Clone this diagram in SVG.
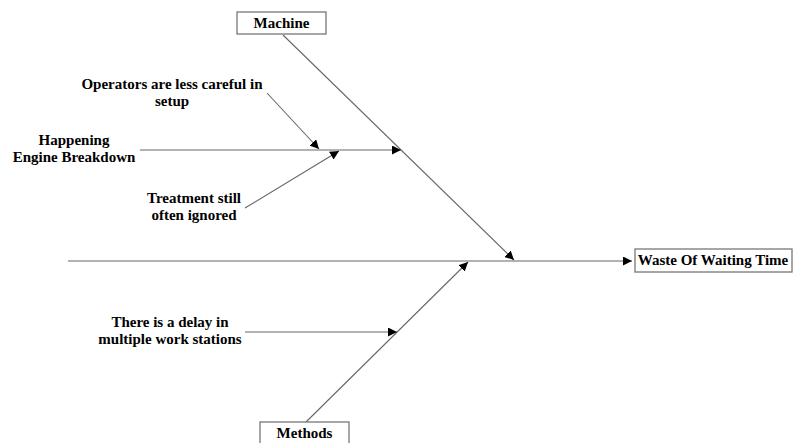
<svg xmlns="http://www.w3.org/2000/svg" width="793" height="443" viewBox="0 0 793 443">
<style>
.t{font-family:"Liberation Serif","Times New Roman",serif;font-weight:bold;font-size:15px;fill:#000;text-anchor:middle}
.b{fill:#fff;stroke:#777;stroke-width:1.3}
.c line{stroke:#666;stroke-width:1.1}
</style>
<defs>
<marker id="ah" viewBox="0 0 10 10" refX="10" refY="5" markerWidth="9" markerHeight="9" markerUnits="userSpaceOnUse" orient="auto">
<path d="M0,0 L10,5 L0,10 z" fill="#000"/>
</marker>
</defs>
<rect width="793" height="443" fill="#fff"/>
<g class="c" id="connectors">
<line x1="68" y1="261" x2="632" y2="261" marker-end="url(#ah)"/>
<line x1="283" y1="35" x2="514" y2="260" marker-end="url(#ah)"/>
<line x1="306" y1="422" x2="468" y2="262" marker-end="url(#ah)"/>
<line x1="140" y1="150" x2="401" y2="150" marker-end="url(#ah)"/>
<line x1="267" y1="93" x2="319" y2="149" marker-end="url(#ah)"/>
<line x1="245" y1="208" x2="339" y2="151" marker-end="url(#ah)"/>
<line x1="245" y1="332" x2="397" y2="332" marker-end="url(#ah)"/>
</g>
<g id="machine">
<rect class="b" x="237" y="12" width="89" height="22"/>
<text class="t" x="281.5" y="28">Machine</text>
</g>
<g id="methods">
<rect class="b" x="260" y="422" width="89" height="24"/>
<text class="t" x="304.5" y="438">Methods</text>
</g>
<g id="effect">
<rect class="b" x="635" y="249" width="157" height="23"/>
<text class="t" x="713" y="265">Waste Of Waiting Time</text>
</g>
<g id="operators">
<text class="t" x="172" y="89">Operators are less careful in</text>
<text class="t" x="172" y="106">setup</text>
</g>
<g id="happening">
<text class="t" x="74" y="145">Happening</text>
<text class="t" x="74" y="162">Engine Breakdown</text>
</g>
<g id="treatment">
<text class="t" x="194" y="203">Treatment still</text>
<text class="t" x="194" y="220">often ignored</text>
</g>
<g id="delay">
<text class="t" x="170" y="327">There is a delay in</text>
<text class="t" x="170" y="344">multiple work stations</text>
</g>
</svg>
